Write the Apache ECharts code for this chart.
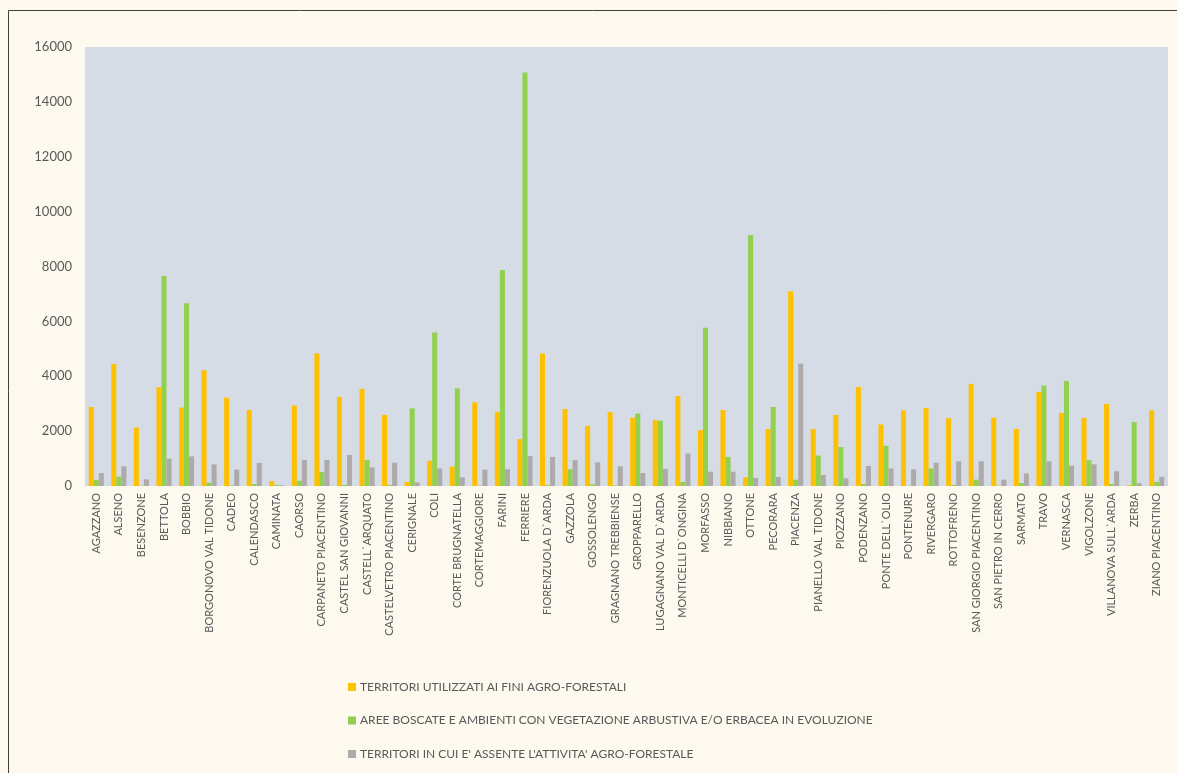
<!DOCTYPE html>
<html>
<head>
<meta charset="utf-8">
<script src="https://cdn.jsdelivr.net/npm/echarts@6/dist/echarts.min.js"></script>
<style>
html,body{margin:0;padding:0;background:#FDF9EF;}
#chart{width:1177px;height:773px;}
</style>
</head>
<body>
<div id="chart"></div>
<script>
const categories = ["AGAZZANO","ALSENO","BESENZONE","BETTOLA","BOBBIO","BORGONOVO VAL TIDONE","CADEO","CALENDASCO","CAMINATA","CAORSO","CARPANETO PIACENTINO","CASTEL SAN GIOVANNI","CASTELL`ARQUATO","CASTELVETRO PIACENTINO","CERIGNALE","COLI","CORTE BRUGNATELLA","CORTEMAGGIORE","FARINI","FERRIERE","FIORENZUOLA D`ARDA","GAZZOLA","GOSSOLENGO","GRAGNANO TREBBIENSE","GROPPARELLO","LUGAGNANO VAL D`ARDA","MONTICELLI D`ONGINA","MORFASSO","NIBBIANO","OTTONE","PECORARA","PIACENZA","PIANELLO VAL TIDONE","PIOZZANO","PODENZANO","PONTE DELL`OLIO","PONTENURE","RIVERGARO","ROTTOFRENO","SAN GIORGIO PIACENTINO","SAN PIETRO IN CERRO","SARMATO","TRAVO","VERNASCA","VIGOLZONE","VILLANOVA SULL`ARDA","ZERBA","ZIANO PIACENTINO"];

const seriesNames = [
  "TERRITORI UTILIZZATI AI FINI AGRO-FORESTALI",
  "AREE BOSCATE E AMBIENTI CON VEGETAZIONE ARBUSTIVA E/O ERBACEA IN EVOLUZIONE",
  "TERRITORI IN CUI E' ASSENTE L'ATTIVITA' AGRO-FORESTALE"
];

const agroForestali = [2880,4450,2130,3600,2860,4220,3220,2770,180,2930,4830,3250,3540,2590,150,920,710,3050,2700,1710,4830,2810,2190,2690,2490,2400,3280,2040,2770,320,2080,7100,2080,2590,3610,2240,2760,2840,2470,3720,2490,2080,3430,2660,2480,2990,30,2760];
const aree = [220,340,10,7650,6660,120,20,70,40,190,510,40,950,40,2830,5590,3560,10,7870,15070,30,610,60,20,2640,2380,150,5770,1060,9150,2880,230,1110,1420,70,1470,10,640,40,230,10,110,3660,3830,940,70,2330,150];
const assente = [470,720,240,1000,1080,790,600,840,30,950,950,1130,680,850,130,640,320,600,610,1090,1060,940,860,720,470,620,1180,520,520,290,330,4460,400,280,730,640,610,850,900,900,230,460,900,740,790,540,100,330];

const colors = ["#FFC000","#92D050","#AEAAAA"];
const textColor = "#595959";
const fontFamily = "Lato, 'Open Sans', sans-serif";

const chart = echarts.init(document.getElementById('chart'), null, {renderer:'canvas'});
const values = [agroForestali, aree, assente];
chart.setOption({
  backgroundColor: '#FDF9EF',
  animation: false,
  textStyle: {fontFamily: fontFamily, color: textColor},
  graphic: [
    {type:'line', shape:{x1:8.5,y1:10.5,x2:1177,y2:10.5}, style:{stroke:'#404040', lineWidth:1}},
    {type:'line', shape:{x1:8.5,y1:10.5,x2:8.5,y2:773}, style:{stroke:'#404040', lineWidth:1}}
  ],
  grid: {left:85, top:47, right:9, bottom:287, containLabel:false, show:true, backgroundColor:'#D6DCE5', borderWidth:0},
  legend: {
    orient:'vertical', left:343, top:676, itemWidth:8, itemHeight:8, itemGap:21.5,
    icon:'rect',
    textStyle:{fontFamily:fontFamily, fontSize:12, color:textColor, padding:[0,0,0,-1]},
    data: seriesNames
  },
  xAxis: {
    type:'category', data:categories,
    axisLine:{show:false}, axisTick:{show:false},
    axisLabel:{interval:0, rotate:90, fontSize:11, color:textColor, fontFamily:fontFamily, margin:7}
  },
  yAxis: {
    type:'value', min:0, max:16000, interval:2000,
    axisLine:{show:false}, axisTick:{show:false}, splitLine:{show:false},
    axisLabel:{fontSize:13, color:textColor, fontFamily:fontFamily, margin:13, formatter: v => String(v)}
  },
  series: seriesNames.map((n,i)=>({
    name:n, type:'bar', data:values[i], barGap:'0%', barCategoryGap:'33%',
    itemStyle:{color:colors[i]}
  }))
});
</script>
</body>
</html>
